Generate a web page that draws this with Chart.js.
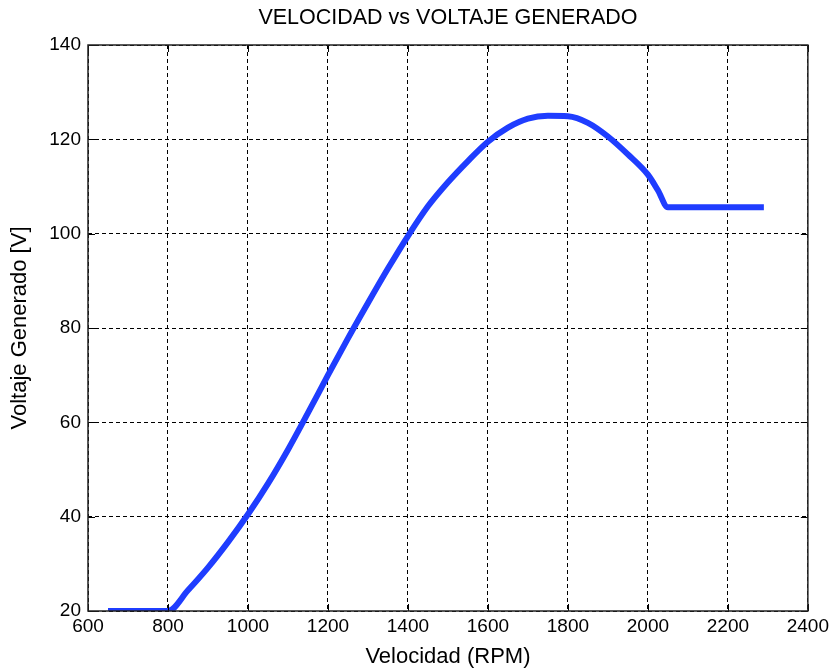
<!DOCTYPE html>
<html>
<head>
<meta charset="utf-8">
<script src="https://cdn.jsdelivr.net/npm/chart.js@4"></script>
<style>
  html, body { margin: 0; padding: 0; background: #fff; }
  canvas { display: block; }
</style>
</head>
<body>
<canvas id="grafica" width="833" height="671"></canvas>
<script>
// datos
const velocidad = [650, 800, 850, 900, 950, 1000, 1050, 1100, 1150, 1200, 1250, 1300, 1350, 1400,
  1450, 1500, 1550, 1600, 1650, 1700, 1750, 1800, 1850, 1900, 1950, 2000, 2025, 2050, 2290];
const voltaje = [20, 20, 24.4, 29.2, 34.6, 40.5, 47, 54.2, 62, 70, 77.8, 85.3, 92.6, 99.5,
  105.8, 110.9, 115.4, 119.5, 122.5, 124.4, 125, 124.9, 123.5, 120.6, 116.8, 112.5, 109.2, 105.6, 105.6];
const xTicks = [600, 800, 1000, 1200, 1400, 1600, 1800, 2000, 2200, 2400];
const yTicks = [20, 40, 60, 80, 100, 120, 140];

const fuente = '"Liberation Sans", Arial, sans-serif';

// marco negro y ticks hacia dentro (estilo matlab)
const marco = {
  id: 'marco',
  afterDraw(chart) {
    const ctx = chart.ctx;
    const a = chart.chartArea;
    const sx = chart.scales.x, sy = chart.scales.y;
    ctx.save();
    ctx.strokeStyle = '#000';
    ctx.lineWidth = 1;
    ctx.beginPath();
    xTicks.forEach(v => {
      const px = Math.round(sx.getPixelForValue(v)) + 0.5;
      ctx.moveTo(px, a.bottom); ctx.lineTo(px, a.bottom - 7);
      ctx.moveTo(px, a.top); ctx.lineTo(px, a.top + 7);
    });
    yTicks.forEach(v => {
      const py = Math.round(sy.getPixelForValue(v)) + 0.5;
      ctx.moveTo(a.left, py); ctx.lineTo(a.left + 7, py);
      ctx.moveTo(a.right, py); ctx.lineTo(a.right - 7, py);
    });
    ctx.stroke();
    ctx.lineWidth = 1.5;
    ctx.strokeStyle = '#222';
    ctx.strokeRect(a.left, a.top, a.right - a.left, a.bottom - a.top);
    ctx.restore();
  }
};

const puntos = velocidad.map((v, i) => ({ x: v, y: voltaje[i] }));

new Chart(document.getElementById('grafica'), {
  type: 'line',
  data: {
    datasets: [{
      data: puntos,
      borderColor: '#1f3dff',
      borderWidth: 6,
      pointRadius: 0,
      cubicInterpolationMode: 'monotone',
      borderJoinStyle: 'round',
      clip: 0
    }]
  },
  options: {
    responsive: false,
    animation: false,
    layout: { padding: { left: 0, right: 24, top: 0, bottom: 0 } },
    plugins: {
      legend: { display: false },
      tooltip: { enabled: false },
      title: {
        display: true,
        text: 'VELOCIDAD vs VOLTAJE GENERADO',
        fullSize: false,
        color: '#000',
        font: { family: fuente, size: 21.5, weight: 'normal' },
        padding: { top: 5.2, bottom: 14 }
      }
    },
    scales: {
      x: {
        type: 'linear',
        min: 600,
        max: 2400,
        afterBuildTicks(s) { s.ticks = xTicks.map(v => ({ value: v })); },
        afterFit(s) { s.height = 60; },
        grid: { color: '#000', lineWidth: 1, drawTicks: false },
        border: { display: false, dash: [4, 3] },
        ticks: {
          color: '#000', padding: 4, maxRotation: 0,
          font: { family: fuente, size: 19 },
          callback: v => String(v)
        },
        title: {
          display: true,
          text: 'Velocidad (RPM)',
          color: '#000',
          font: { family: fuente, size: 22 },
          padding: { top: 0, bottom: 1 }
        }
      },
      y: {
        min: 20,
        max: 140,
        afterBuildTicks(s) { s.ticks = yTicks.map(v => ({ value: v })); },
        afterFit(s) { s.width = 88; },
        grid: { color: '#000', lineWidth: 1, drawTicks: false },
        border: { display: false, dash: [4, 3] },
        ticks: {
          color: '#000', padding: 7,
          font: { family: fuente, size: 19 },
          callback: v => String(v)
        },
        title: {
          display: true,
          text: 'Voltaje Generado [V]',
          color: '#000',
          font: { family: fuente, size: 22 },
          padding: { top: 7, bottom: 0 }
        }
      }
    }
  },
  plugins: [marco]
});
</script>
</body>
</html>
